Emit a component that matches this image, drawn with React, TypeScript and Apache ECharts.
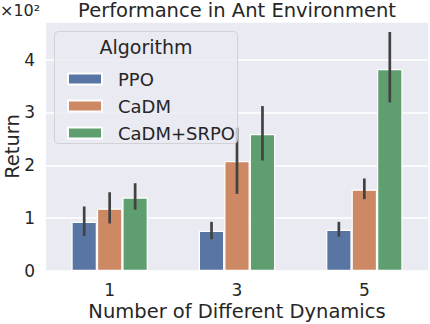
import React, { useEffect, useRef } from "react";
import * as echarts from "echarts";

const categories = ["1", "3", "5"];
const seriesNames = ["PPO", "CaDM", "CaDM+SRPO"];
const colors = ["#5975a4", "#cc8963", "#5f9e6e"];
const ppoMean = [93, 76, 78];
const ppoLow = [66, 60, 65];
const ppoHigh = [122, 93, 93];
const cadmMean = [118, 208, 154];
const cadmLow = [90, 146, 136];
const cadmHigh = [149, 271, 175];
const srpoMean = [139, 259, 382];
const srpoLow = [116, 209, 319];
const srpoHigh = [166, 312, 452];

const means = [ppoMean, cadmMean, srpoMean];
const lows = [ppoLow, cadmLow, srpoLow];
const highs = [ppoHigh, cadmHigh, srpoHigh];

const FONT = "DejaVu Sans";
const TXT = "#262626";

export default function App() {
  const ref = useRef<HTMLDivElement>(null);
  useEffect(() => {
    if (!ref.current) return;
    document.body.style.margin = "0";
    const chart = echarts.init(ref.current, undefined, { renderer: "svg" });
    const errData: number[][] = [];
    for (let s = 0; s < 3; s++) {
      for (let c = 0; c < categories.length; c++) {
        errData.push([c, lows[s][c], highs[s][c], s]);
      }
    }
    const bars = seriesNames.map((name, i) => ({
      name,
      type: "bar",
      data: means[i],
      barWidth: "20%",
      barGap: "0%",
      itemStyle: { color: colors[i], borderColor: "#ffffff", borderWidth: 1.2 },
      z: 2,
    }));
    chart.setOption({
      animation: false,
      textStyle: { fontFamily: FONT, color: TXT },
      grid: {
        left: 46,
        right: 2,
        top: 22,
        bottom: 53,
        show: true,
        backgroundColor: "#EAEAF2",
        borderWidth: 0,
        containLabel: false,
        outerBoundsMode: "none",
      },
      xAxis: {
        type: "category",
        data: categories,
        axisLine: { show: false },
        axisTick: { show: false },
        axisLabel: { fontSize: 17, color: TXT, fontFamily: FONT, margin: 10 },
        name: "Number of Different Dynamics",
        nameLocation: "middle",
        nameGap: 30,
        nameMoveOverlap: false,
        nameTextStyle: { fontSize: 19.5, color: TXT, fontFamily: FONT },
        splitLine: { show: false },
      },
      yAxis: {
        type: "value",
        min: 0,
        max: 471,
        interval: 100,
        axisLine: { show: false },
        axisTick: { show: false },
        axisLabel: {
          fontSize: 17,
          color: TXT,
          fontFamily: FONT,
          margin: 11,
          showMaxLabel: false,
          formatter: (v: number) => (v % 100 === 0 ? String(v / 100) : ""),
        },
        splitLine: { show: true, lineStyle: { color: "#ffffff", width: 1.5 } },
        name: "Return",
        nameLocation: "middle",
        nameGap: 24,
        nameMoveOverlap: false,
        nameTextStyle: { fontSize: 19.5, color: TXT, fontFamily: FONT },
      },
      legend: {
        data: seriesNames,
        orient: "vertical",
        left: 62,
        top: 65,
        itemWidth: 34,
        itemHeight: 11,
        itemGap: 9,
        icon: "rect",
        textStyle: { fontSize: 18, color: TXT, fontFamily: FONT, padding: [0, 0, 0, 11] },
        z: 10,
      },
      graphic: [
        {
          type: "rect",
          z: 8,
          shape: { x: 54.5, y: 31.5, width: 183, height: 112, r: 4 },
          style: { fill: "rgba(234,234,242,0.8)", stroke: "rgba(204,204,204,0.8)", lineWidth: 1 },
        },
        {
          type: "text",
          z: 10,
          x: 146,
          y: 47,
          style: {
            text: "Algorithm",
            fontSize: 19,
            fontFamily: FONT,
            fill: TXT,
            textAlign: "center",
            textVerticalAlign: "middle",
          },
        },
        {
          type: "text",
          z: 10,
          x: 237,
          y: 10.5,
          style: {
            text: "Performance in Ant Environment",
            fontSize: 19.5,
            fontFamily: FONT,
            fill: TXT,
            textAlign: "center",
            textVerticalAlign: "middle",
          },
        },
        {
          type: "text",
          z: 10,
          x: 0,
          y: 10,
          style: {
            text: "×10²",
            fontSize: 16,
            fontFamily: FONT,
            fill: TXT,
            textAlign: "left",
            textVerticalAlign: "middle",
          },
        },
      ],
      series: [
        ...bars,
        {
          type: "custom",
          name: "err",
          data: errData,
          z: 3,
          encode: { x: 0, y: [1, 2] },
          renderItem: (params: any, api: any) => {
            const c = api.value(0);
            const lo = api.coord([c, api.value(1)]);
            const hi = api.coord([c, api.value(2)]);
            const band = api.size([1, 0])[0];
            const off = (api.value(3) - 1) * band * 0.2;
            return {
              type: "line",
              shape: { x1: lo[0] + off, y1: lo[1], x2: hi[0] + off, y2: hi[1] },
              style: { stroke: "#424242", lineWidth: 2.7 },
            };
          },
        },
      ],
    });
    return () => chart.dispose();
  }, []);
  return <div ref={ref} style={{ width: 430, height: 324 }} />;
}
